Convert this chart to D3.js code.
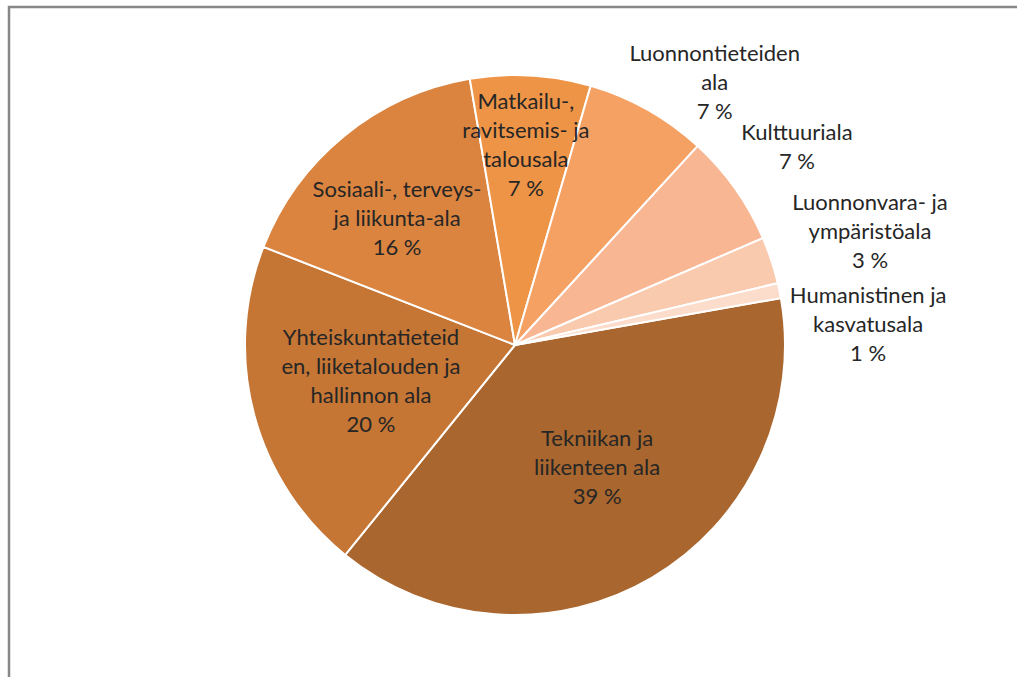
<!DOCTYPE html>
<html>
<head>
  <meta charset="utf-8">
  <title>Koulutusalat</title>
  <style>
    body { margin: 0; background: #fff; }
    svg text { font-family: Lato, "Open Sans", sans-serif; fill: #262626; }
  </style>
</head>
<body>
  <svg width="1017" height="677"></svg>
  <script src="https://d3js.org/d3.v7.min.js"></script>
  <script>
  // data, clockwise from the first slice (shares in %)
  var categories = [
    "Tekniikan ja|liikenteen ala",
    "Yhteiskuntatieteid|en, liiketalouden ja|hallinnon ala",
    "Sosiaali-, terveys-|ja liikunta-ala",
    "Matkailu-,|ravitsemis- ja|talousala",
    "Luonnontieteiden|ala",
    "Kulttuuriala",
    "Luonnonvara- ja|ympäristöala",
    "Humanistinen ja|kasvatusala"
  ];
  var values = [38.6, 20.1, 16.4, 7.2, 7.3, 6.7, 2.8, 0.9];
  var colors = ["#a9662e", "#c57534", "#da843f", "#ee9447", "#f6a164", "#f8b693", "#f9caae", "#fcdccb"];

  // label placement: [radius factor, angle shift in degrees]
  var labelLayout = [[0.548, -3.2], [0.55, 0.8], [0.64, -3.9], [0.74, -0.2], [1.22, 7.9], [1.276, 0.3], [1.38, 0.6], [1.31, 8.3]];

  var svg = d3.select("svg");
  var cx = 515, cy = 345, r = 270;
  var deg = Math.PI / 180;

  // chart frame (only top and left edges are in view)
  svg.append("rect")
    .attr("x", 9).attr("y", 7)
    .attr("width", 1030).attr("height", 700)
    .attr("fill", "none")
    .attr("stroke", "#878787")
    .attr("stroke-width", 2.5);

  var pie = d3.pie().sort(null)
    .startAngle(80 * deg)
    .endAngle(80 * deg + 2 * Math.PI);
  var arcs = pie(values);
  var arc = d3.arc().innerRadius(0).outerRadius(r);

  var g = svg.append("g").attr("transform", "translate(" + cx + "," + cy + ")");

  g.selectAll("path")
    .data(arcs)
    .enter()
    .append("path")
    .attr("d", arc)
    .attr("fill", function(d, i) { return colors[i]; })
    .attr("stroke", "#fff")
    .attr("stroke-width", 2);

  var lineH = 29;
  g.selectAll("text.lbl")
    .data(arcs)
    .enter()
    .append("text")
    .attr("class", "lbl")
    .attr("text-anchor", "middle")
    .style("font-size", "22px")
    .each(function(d, i) {
      var lay = labelLayout[i];
      var a = (d.startAngle + d.endAngle) / 2 + lay[1] * deg;
      var rr = r * lay[0];
      var x = Math.sin(a) * rr, y = -Math.cos(a) * rr;
      var lines = categories[i].split("|").concat([Math.round(values[i]) + " %"]);
      var y0 = y - (lines.length - 1) * lineH / 2 + 7;
      var t = d3.select(this);
      lines.forEach(function(s, k) {
        t.append("tspan").attr("x", x).attr("y", y0 + k * lineH).text(s);
      });
    });
  </script>
</body>
</html>
